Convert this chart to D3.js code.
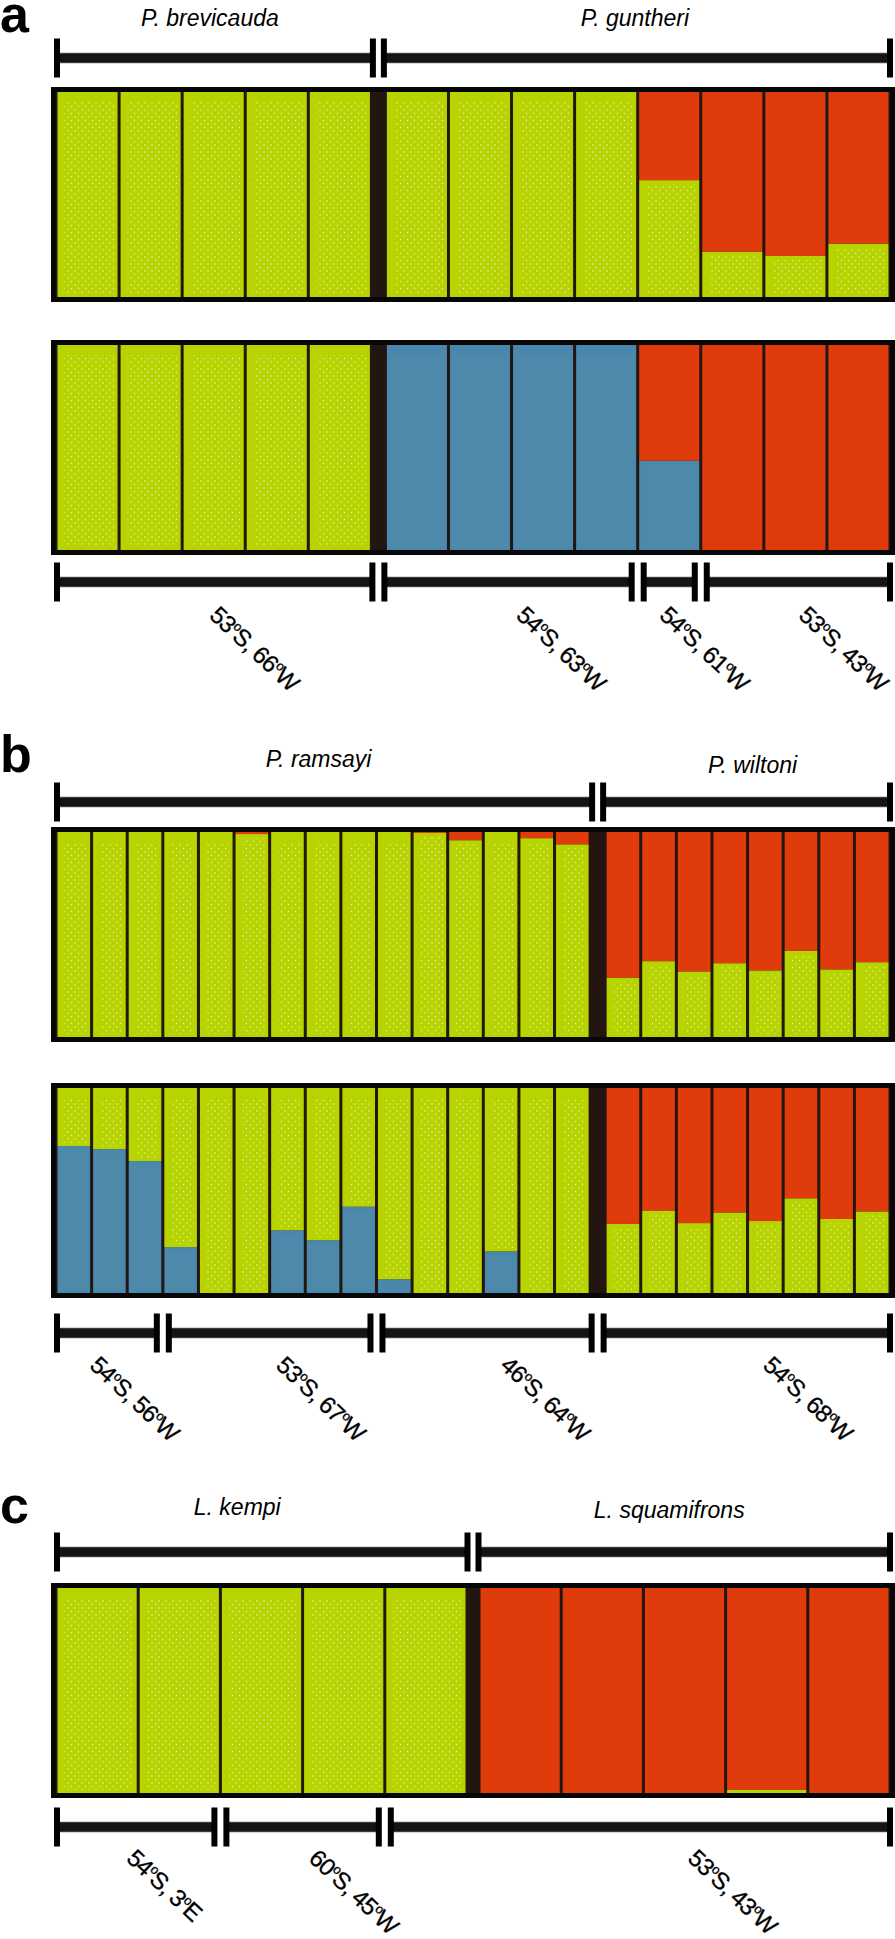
<!DOCTYPE html>
<html>
<head>
<meta charset="utf-8">
<script src="https://cdn.jsdelivr.net/npm/d3@7"></script>
<style>
  html, body { margin: 0; padding: 0; background: #fff; }
  svg { display: block; }
  text { font-family: "Liberation Sans", Arial, Helvetica, sans-serif; fill: #000; }
</style>
</head>
<body>
<div id="chart"></div>
<script>
// ---------------- DATA ----------------
// Panel a
const aSpecies = ["P. brevicauda", "P. guntheri"];
const aSpeciesCounts = [5, 8];
const aSites = ["53°S, 66°W", "54°S, 63°W", "54°S, 61°W", "53°S, 43°W"];
const aSiteCounts = [5, 4, 1, 3];
// upper plot (K = 2)
const aTopBlue  = [0, 0, 0, 0, 0,  0, 0, 0, 0, 0, 0, 0, 0];
const aTopGreen = [1, 1, 1, 1, 1,  1, 1, 1, 1, 0.57, 0.22, 0.20, 0.26];
const aTopRed   = [0, 0, 0, 0, 0,  0, 0, 0, 0, 0.43, 0.78, 0.80, 0.74];
// lower plot (K = 3)
const aBotBlue  = [0, 0, 0, 0, 0,  1, 1, 1, 1, 0.435, 0, 0, 0];
const aBotGreen = [1, 1, 1, 1, 1,  0, 0, 0, 0, 0, 0, 0, 0];
const aBotRed   = [0, 0, 0, 0, 0,  0, 0, 0, 0, 0.565, 1, 1, 1];

// Panel b
const bSpecies = ["P. ramsayi", "P. wiltoni"];
const bSpeciesCounts = [15, 8];
const bSites = ["54°S, 56°W", "53°S, 67°W", "46°S, 64°W", "54°S, 68°W"];
const bSiteCounts = [3, 6, 6, 8];
const bTopBlue  = [0, 0, 0, 0, 0, 0, 0, 0, 0, 0, 0, 0, 0, 0, 0,
                   0, 0, 0, 0, 0, 0, 0, 0];
const bTopGreen = [1, 1, 1, 1, 1, 0.99, 1, 1, 1, 1, 0.995, 0.96, 1, 0.97, 0.94,
                   0.29, 0.37, 0.32, 0.36, 0.325, 0.42, 0.33, 0.365];
const bTopRed   = [0, 0, 0, 0, 0, 0.01, 0, 0, 0, 0, 0.005, 0.04, 0, 0.03, 0.06,
                   0.71, 0.63, 0.68, 0.64, 0.675, 0.58, 0.67, 0.635];
const bBotBlue  = [0.717, 0.702, 0.644, 0.224, 0, 0, 0.306, 0.257, 0.421, 0.067, 0, 0, 0.203, 0, 0,
                   0, 0, 0, 0, 0, 0, 0, 0];
const bBotGreen = [0.283, 0.298, 0.356, 0.776, 1, 1, 0.694, 0.743, 0.579, 0.933, 1, 1, 0.797, 1, 1,
                   0.337, 0.40, 0.341, 0.393, 0.351, 0.462, 0.361, 0.398];
const bBotRed   = [0, 0, 0, 0, 0, 0, 0, 0, 0, 0, 0, 0, 0, 0, 0,
                   0.663, 0.60, 0.659, 0.607, 0.649, 0.538, 0.639, 0.602];

// Panel c
const cSpecies = ["L. kempi", "L. squamifrons"];
const cSpeciesCounts = [5, 5];
const cSites = ["54°S, 3°E", "60°S, 45°W", "53°S, 43°W"];
const cSiteCounts = [2, 2, 6];
const cBlue  = [0, 0, 0, 0, 0,  0, 0, 0, 0, 0];
const cGreen = [1, 1, 1, 1, 1,  0, 0, 0, 0.015, 0];
const cRed   = [0, 0, 0, 0, 0,  1, 1, 1, 0.985, 1];

const clusterKeys = ["blue", "green", "red"];   // stacking order bottom -> top

// ---------------- LAYOUT / STYLE ----------------
const W = 895, H = 1939;
const innerL = 56, innerR = 890, border = 5, boxH = 215, barGap = 3;
const colors = { blue: "#4a87ae", green: "#b8d400", red: "#e03c0b" };
const frameColor = "#070707", sepColor = "#231510";

const panels = [
  { letter: "a", letterY: 32,
    species: aSpecies, speciesCounts: aSpeciesCounts, speciesY: [26, 26], speciesNudge: [-5, -2],
    sites: aSites, siteCounts: aSiteCounts, siteNudge: [-9, 7, -11, 2],
    sep: 14, topBracketY: 58, boxTops: [87, 340], bottomBracketY: 582, siteLabelDy: 33,
    plots: [[aTopBlue, aTopGreen, aTopRed], [aBotBlue, aBotGreen, aBotRed]] },
  { letter: "b", letterY: 772,
    species: bSpecies, speciesCounts: bSpeciesCounts, speciesY: [767, 773], speciesNudge: [-6, 6],
    sites: bSites, siteCounts: bSiteCounts, siteNudge: [-21, 5, 12, 18],
    sep: 15, topBracketY: 802, boxTops: [827, 1083], bottomBracketY: 1333, siteLabelDy: 32,
    plots: [[bTopBlue, bTopGreen, bTopRed], [bBotBlue, bBotGreen, bBotRed]] },
  { letter: "c", letterY: 1523,
    species: cSpecies, speciesCounts: cSpeciesCounts, speciesY: [1515, 1518], speciesNudge: [-25, -15],
    sites: cSites, siteCounts: cSiteCounts, siteNudge: [-13, 5, 49],
    sep: 12, topBracketY: 1552, boxTops: [1583], bottomBracketY: 1827, siteLabelDy: 31,
    plots: [[cBlue, cGreen, cRed]] }
];

// ---------------- DRAW ----------------
const svg = d3.select("#chart").append("svg")
  .attr("width", W).attr("height", H)
  .attr("viewBox", `0 0 ${W} ${H}`);
svg.append("rect").attr("width", W).attr("height", H).attr("fill", "#fff");

const defs = svg.append("defs");
const pg = defs.append("pattern").attr("id", "dotsGreen")
  .attr("patternUnits", "userSpaceOnUse").attr("width", 7).attr("height", 7);
pg.append("circle").attr("cx", 1.5).attr("cy", 1.5).attr("r", 0.65).attr("fill", "#eef0ff");
pg.append("circle").attr("cx", 5).attr("cy", 5).attr("r", 0.65).attr("fill", "#eef0ff");
const pb = defs.append("pattern").attr("id", "dotsBlue")
  .attr("patternUnits", "userSpaceOnUse").attr("width", 4).attr("height", 4);
pb.append("circle").attr("cx", 1).attr("cy", 1).attr("r", 0.5).attr("fill", "#82a86a");
pb.append("circle").attr("cx", 3).attr("cy", 3).attr("r", 0.5).attr("fill", "#82a86a");

function drawBracket(g, segs, y) {
  segs.forEach(s => {
    g.append("rect").attr("x", s.x0).attr("y", y - 5).attr("width", s.x1 - s.x0).attr("height", 10)
      .attr("fill", "#141414").attr("stroke", "#8a8a8a").attr("stroke-width", 0.7);
    [s.x0, s.x1].forEach(x => {
      g.append("rect").attr("x", x - 3).attr("y", y - 19.5).attr("width", 6).attr("height", 39)
        .attr("fill", "#000");
    });
  });
}

function degreeText(sel, label, big, small, raise) {
  const parts = label.split("°");
  parts.forEach((p, i) => {
    if (i > 0) {
      sel.append("tspan").attr("font-size", small).attr("dy", -raise).text("o");
      sel.append("tspan").attr("font-size", big).attr("dy", raise).text(p);
    } else {
      sel.append("tspan").attr("font-size", big).text(p);
    }
  });
}

panels.forEach(P => {
  const g = svg.append("g");
  const n1 = P.speciesCounts[0], n2 = P.speciesCounts[1], n = n1 + n2;
  const bw = (innerR - innerL - P.sep) / n;
  const ids = d3.range(n);
  const s1 = d3.scaleBand().domain(ids.slice(0, n1)).range([innerL, innerL + n1 * bw]);
  const s2 = d3.scaleBand().domain(ids.slice(n1)).range([innerL + n1 * bw + P.sep, innerR]);
  const xs = i => (i < n1 ? s1(i) : s2(i));
  const sepC = innerL + n1 * bw + P.sep / 2;

  // panel letter
  g.append("text").attr("x", 0).attr("y", P.letterY)
    .attr("font-size", 52).attr("font-weight", "bold").text(P.letter);

  // species labels + top bracket
  const spSegs = [
    { x0: innerL + 1, x1: sepC - 5.5 },
    { x0: sepC + 5.5, x1: innerR }
  ];
  P.species.forEach((sp, k) => {
    const cx = (spSegs[k].x0 + spSegs[k].x1) / 2 + P.speciesNudge[k];
    g.append("text").attr("x", cx).attr("y", P.speciesY[k])
      .attr("text-anchor", "middle").attr("font-style", "italic").attr("font-size", 23).text(sp);
  });
  drawBracket(g, spSegs, P.topBracketY);

  // structure plots
  P.plots.forEach((series, pi) => {
    const top = P.boxTops[pi];
    const innerTop = top + border, innerBot = top + boxH - border;
    const y = d3.scaleLinear().domain([0, 1]).range([innerBot, innerTop]);
    g.append("rect").attr("x", innerL - border).attr("y", top)
      .attr("width", innerR - innerL + 2 * border).attr("height", boxH).attr("fill", frameColor);
    g.append("rect").attr("x", innerL).attr("y", innerTop)
      .attr("width", innerR - innerL).attr("height", innerBot - innerTop).attr("fill", sepColor);

    const rows = ids.map(i => ({ blue: series[0][i], green: series[1][i], red: series[2][i] }));
    const stacked = d3.stack().keys(clusterKeys)(rows);
    stacked.forEach(layer => {
      const key = layer.key;
      layer.forEach((d, i) => {
        const h = y(d[0]) - y(d[1]);
        if (h <= 0.01) return;
        const x0 = xs(i) + barGap / 2, w = bw - barGap;
        g.append("rect").attr("x", x0).attr("y", y(d[1])).attr("width", w).attr("height", h)
          .attr("fill", colors[key]);
        if ((key === "green" || key === "blue") && h > 18) {
          const topInset = d[1] >= 0.999 ? 10 : 4;
          g.append("rect").attr("x", x0 + (key === "green" ? 7 : 2)).attr("y", y(d[1]) + topInset)
            .attr("width", Math.max(0, w - (key === "green" ? 10 : 4)))
            .attr("height", Math.max(0, h - topInset - 3))
            .attr("fill", key === "green" ? "url(#dotsGreen)" : "url(#dotsBlue)")
            .attr("opacity", key === "green" ? 0.9 : 0.75);
        }
      });
    });
    // species separator
    g.append("rect").attr("x", innerL + n1 * bw).attr("y", innerTop)
      .attr("width", P.sep).attr("height", innerBot - innerTop).attr("fill", sepColor);
  });

  // sites: bottom bracket + labels
  let cum = 0;
  const siteSegs = [];
  const bounds = [];
  P.siteCounts.forEach(c => {
    const i0 = cum, i1 = cum + c - 1;
    const xa = i0 === 0 ? innerL : (i0 === n1 ? sepC : xs(i0));
    const xb = i1 === n - 1 ? innerR : (i1 === n1 - 1 ? sepC : xs(i1) + bw);
    bounds.push([xa, xb]);
    cum += c;
  });
  bounds.forEach(([xa, xb], k) => {
    siteSegs.push({
      x0: k === 0 ? xa + 1 : xa + 6,
      x1: k === bounds.length - 1 ? xb : xb - 6
    });
  });
  drawBracket(g, siteSegs, P.bottomBracketY);
  P.sites.forEach((s, k) => {
    const cx = (bounds[k][0] + bounds[k][1]) / 2 + P.siteNudge[k];
    const t = g.append("text")
      .attr("transform", `translate(${cx},${P.bottomBracketY + P.siteLabelDy + 2}) rotate(43)`)
      .attr("font-size", 24).attr("letter-spacing", -0.9)
      .attr("stroke", "#000").attr("stroke-width", 0.3);
    degreeText(t, s, 24, 13, 9);
  });
});
</script>
</body>
</html>
